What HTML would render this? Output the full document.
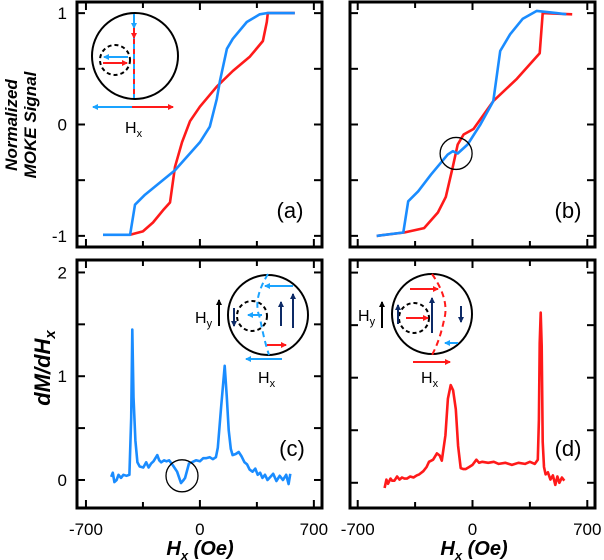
<!DOCTYPE html>
<html><head><meta charset="utf-8"><style>
body{margin:0;background:#fff;}
svg{display:block;font-family:"Liberation Sans",Arial,sans-serif;}
</style></head><body>
<svg id="fig" width="604" height="560" viewBox="0 0 604 560">
<defs>
<marker id="ab" markerWidth="6" markerHeight="6" refX="5" refY="3" orient="auto" markerUnits="userSpaceOnUse"><path d="M0,0L6,3L0,6z" fill="#1aa3ff"/></marker>
<marker id="ar" markerWidth="6" markerHeight="6" refX="5" refY="3" orient="auto" markerUnits="userSpaceOnUse"><path d="M0,0L6,3L0,6z" fill="#ff1a1a"/></marker>
<marker id="an" markerWidth="6" markerHeight="6" refX="5" refY="3" orient="auto" markerUnits="userSpaceOnUse"><path d="M0,0L6,3L0,6z" fill="#0d2a66"/></marker>
<marker id="ak" markerWidth="6" markerHeight="6" refX="5" refY="3" orient="auto" markerUnits="userSpaceOnUse"><path d="M0,0L6,3L0,6z" fill="#000"/></marker>
</defs>
<g id="plots"></g>
<g id="labels" font-size="17">
<text transform="translate(26,125) rotate(-90)" text-anchor="middle" font-weight="bold" font-style="italic" font-size="17"><tspan x="0" dy="-9">Normalized</tspan><tspan x="0" dy="19">MOKE Signal</tspan></text>
<text transform="translate(50,368) rotate(-90)" text-anchor="middle" font-weight="bold" font-style="italic" font-size="22">dM/dH<tspan font-size="15" dy="5">x</tspan></text>
<text x="200" y="555" text-anchor="middle" font-weight="bold" font-style="italic" font-size="20">H<tspan font-size="13" dy="5">x</tspan><tspan dy="-5"> (Oe)</tspan></text>
<text x="474" y="555" text-anchor="middle" font-weight="bold" font-style="italic" font-size="20">H<tspan font-size="13" dy="5">x</tspan><tspan dy="-5"> (Oe)</tspan></text>
<text x="290" y="218" text-anchor="middle" font-size="22">(a)</text>
<text x="568" y="218" text-anchor="middle" font-size="22">(b)</text>
<text x="292" y="456" text-anchor="middle" font-size="22">(c)</text>
<text x="568" y="456" text-anchor="middle" font-size="22">(d)</text>
</g>
<g id="insets" fill="none" stroke-width="2">
<g>
<circle cx="135" cy="56" r="43" stroke="#000"/>
<circle cx="115" cy="60" r="15" stroke="#000" stroke-dasharray="4,3"/>
<line x1="134" y1="14" x2="134" y2="98" stroke="#1aa3ff" stroke-dasharray="5,5"/>
<line x1="134" y1="19" x2="134" y2="98" stroke="#ff1a1a" stroke-dasharray="5,5"/>
<line x1="134" y1="16" x2="134" y2="28" stroke="#1aa3ff" marker-end="url(#ab)"/>
<line x1="134" y1="28" x2="134" y2="38" stroke="#ff1a1a" marker-end="url(#ar)"/>
<line x1="128" y1="57" x2="104" y2="57" stroke="#1aa3ff" marker-end="url(#ab)"/>
<line x1="103" y1="63" x2="127" y2="63" stroke="#ff1a1a" marker-end="url(#ar)"/>
<line x1="132" y1="107" x2="93" y2="107" stroke="#1aa3ff" marker-end="url(#ab)"/>
<line x1="132" y1="107" x2="173" y2="107" stroke="#ff1a1a" marker-end="url(#ar)"/>
<text x="125" y="133" fill="#000" stroke="none" font-size="16">H<tspan font-size="11" dy="4">x</tspan></text>
</g>
<g>
<circle cx="268" cy="315" r="40" stroke="#000"/>
<circle cx="252" cy="316" r="15" stroke="#000" stroke-dasharray="4,3"/>
<path d="M268,274 Q252,300 260,318 Q264,340 269,355" stroke="#1aa3ff" stroke-dasharray="6,4"/>
<line x1="293" y1="286" x2="265" y2="286" stroke="#1aa3ff" marker-end="url(#ab)"/>
<line x1="262" y1="315" x2="248" y2="315" stroke="#1aa3ff" marker-end="url(#ab)"/>
<line x1="267" y1="345" x2="286" y2="345" stroke="#ff1a1a" marker-end="url(#ar)"/>
<line x1="282" y1="359" x2="246" y2="359" stroke="#1aa3ff" marker-end="url(#ab)"/>
<line x1="234" y1="308" x2="234" y2="326" stroke="#0d2a66" marker-end="url(#an)"/>
<line x1="281" y1="326" x2="281" y2="302" stroke="#0d2a66" marker-end="url(#an)"/>
<line x1="293" y1="328" x2="293" y2="294" stroke="#0d2a66" marker-end="url(#an)"/>
<line x1="219" y1="326" x2="219" y2="300" stroke="#000" marker-end="url(#ak)"/>
<text x="195" y="323" fill="#000" stroke="none" font-size="16">H<tspan font-size="11" dy="4">y</tspan></text>
<text x="258" y="383" fill="#000" stroke="none" font-size="16">H<tspan font-size="11" dy="4">x</tspan></text>
</g>
<g>
<circle cx="432" cy="314" r="40" stroke="#000"/>
<circle cx="414" cy="318" r="15" stroke="#000" stroke-dasharray="4,3"/>
<path d="M432,274 Q450,300 444,320 Q440,340 432,355" stroke="#ff1a1a" stroke-dasharray="6,4"/>
<line x1="410" y1="289" x2="438" y2="289" stroke="#ff1a1a" marker-end="url(#ar)"/>
<line x1="406" y1="318" x2="428" y2="318" stroke="#ff1a1a" marker-end="url(#ar)"/>
<line x1="398" y1="324" x2="398" y2="305" stroke="#0d2a66" marker-end="url(#an)"/>
<line x1="432" y1="333" x2="432" y2="298" stroke="#0d2a66" marker-end="url(#an)"/>
<line x1="461" y1="306" x2="461" y2="322" stroke="#0d2a66" marker-end="url(#an)"/>
<line x1="458" y1="343" x2="445" y2="343" stroke="#1aa3ff" marker-end="url(#ab)"/>
<line x1="413" y1="362" x2="450" y2="362" stroke="#ff1a1a" marker-end="url(#ar)"/>
<line x1="382" y1="328" x2="382" y2="302" stroke="#000" marker-end="url(#ak)"/>
<text x="358" y="321" fill="#000" stroke="none" font-size="16">H<tspan font-size="11" dy="4">y</tspan></text>
<text x="421" y="383" fill="#000" stroke="none" font-size="16">H<tspan font-size="11" dy="4">x</tspan></text>
</g>
</g>
</svg>
<script>
const aBlueX=[-595,-429,-399,-337,-153,0,61,104,123,166,202,288,368,411,583];
const aBlueY=[-0.99,-0.99,-0.72,-0.63,-0.41,-0.16,-0.02,0.23,0.39,0.68,0.77,0.92,0.99,1.0,1.0];
const aRedX=[-429,-350,-288,-227,-184,-153,-110,-61,0,104,202,307,387,411,417,583];
const aRedY=[-0.99,-0.96,-0.88,-0.77,-0.70,-0.38,-0.16,0.03,0.16,0.34,0.48,0.61,0.75,0.92,1.0,1.0];
const bBlueX=[-584,-422,-392,-331,-253,-151,-120,-90,-30,48,127,169,229,307,392,512,572];
const bBlueY=[-1.0,-0.97,-0.69,-0.6,-0.45,-0.27,-0.24,-0.26,-0.18,0,0.21,0.66,0.81,0.95,1.02,1.0,0.99];
const bRedX=[-584,-416,-295,-211,-163,-120,-90,-54,6,127,271,410,428,608];
const bRedY=[-1.0,-0.97,-0.93,-0.79,-0.65,-0.38,-0.18,-0.09,-0.04,0.21,0.41,0.64,1.0,0.99];
const cX=[-545,-535,-525,-512,-500,-485,-470,-451,-433,-422,-415,-408,-396,-384,-370,-348,-330,-315,-299,-285,-262,-250,-238,-220,-205,-189,-165,-140,-116,-100,-91,-67,-50,-24,0,20,37,60,80,98,110,130,152,165,177,190,201,220,238,255,274,290,305,323,340,355,370,384,400,415,433,450,470,490,510,530,545,555];
const cY=[0.03,0.07,-0.02,0.0,0.05,0.02,0.05,0.04,0.05,0.6,1.45,0.8,0.38,0.17,0.13,0.12,0.17,0.12,0.16,0.18,0.24,0.19,0.17,0.19,0.18,0.19,0.14,0.08,-0.03,0.0,0.02,0.16,0.17,0.19,0.18,0.21,0.21,0.22,0.20,0.22,0.31,0.7,1.1,0.8,0.48,0.30,0.24,0.25,0.27,0.23,0.17,0.15,0.10,0.08,0.11,0.05,0.07,0.02,0.05,0.0,0.03,0.06,-0.01,0.04,0.0,0.05,-0.04,0.06];
const dX=[-536,-525,-515,-500,-490,-476,-460,-445,-430,-415,-400,-380,-360,-340,-325,-300,-280,-265,-240,-217,-200,-187,-165,-150,-133,-118,-102,-88,-72,-55,-42,-20,0,24,40,60,96,130,160,200,240,280,320,350,380,398,405,410,416,422,428,436,446,460,475,490,505,518,530,545,560];
const dY=[-0.05,0.03,-0.01,0.04,0.02,0.02,0.06,0.03,0.05,0.04,0.04,0.06,0.05,0.07,0.08,0.11,0.15,0.2,0.22,0.28,0.26,0.21,0.45,0.8,0.93,0.88,0.7,0.35,0.14,0.13,0.13,0.15,0.17,0.22,0.19,0.2,0.19,0.2,0.18,0.19,0.17,0.19,0.18,0.2,0.18,0.22,0.6,1.33,1.62,1.3,0.39,0.15,0.08,0.1,0.03,0.07,-0.02,0.06,0.0,0.05,0.02];
const yTicksTop=[1,0,-1];
const yTicksBot=[2,1,0];
const xTickLabels=[-700,0,700];
const NS="http://www.w3.org/2000/svg";
const g=document.getElementById('plots');
function mk(tag,at,parent){const e=document.createElementNS(NS,tag);for(const k in at)e.setAttribute(k,at[k]);(parent||g).appendChild(e);return e;}
function panel(name,x0,x1,y0,y1,xmin,xmax,ymin,ymax,yMajor,yMinorStep,showYLabels,showXLabels){
  const sx=v=>x0+(v-xmin)/(xmax-xmin)*(x1-x0);
  const sy=v=>y1-(v-ymin)/(ymax-ymin)*(y1-y0);
  const fr=mk('rect',{x:x0,y:y0,width:x1-x0,height:y1-y0,fill:'none',stroke:'#000','stroke-width':3});
  
  
  for(let v=-700;v<=700;v+=350){
    const L=v%700===0?8:6;
    mk('line',{x1:sx(v),x2:sx(v),y1:y1,y2:y1-L,stroke:'#000','stroke-width':2});
    mk('line',{x1:sx(v),x2:sx(v),y1:y0,y2:y0+L,stroke:'#000','stroke-width':2});
  }
  for(let v=Math.ceil(ymin/yMinorStep)*yMinorStep;v<=ymax+1e-9;v+=yMinorStep){
    mk('line',{x1:x0,x2:x0+8,y1:sy(v),y2:sy(v),stroke:'#000','stroke-width':2});
    mk('line',{x1:x1,x2:x1-8,y1:sy(v),y2:sy(v),stroke:'#000','stroke-width':2});
  }
  if(showYLabels){
    yMajor.forEach(v=>{
      const t=mk('text',{x:x0-10,y:sy(v)+6,'text-anchor':'end','font-size':17});
      t.textContent=v;
      
      
    });
  }
  if(showXLabels){
    xTickLabels.forEach(v=>{
      const t=mk('text',{x:sx(v),y:y1+27,'text-anchor':'middle','font-size':17});
      t.textContent=v;
      
      
    });
  }
  return {sx,sy};
}
function series(ax,X,Y,color,name){
  const d=X.map((x,i)=>(i?'L':'M')+ax.sx(x).toFixed(1)+','+ax.sy(Y[i]).toFixed(1)).join('');
  const p=mk('path',{d:d,fill:'none',stroke:color,'stroke-width':2.6,'stroke-linejoin':'round'});
  
  
}
const BLUE='#1a8cff',RED='#ff1a1a';
const A=panel('panel-a',77,322,2,247,-755,750,-1.1,1.1,yTicksTop,0.5,true,false);
series(A,aRedX,aRedY,RED,'series-a-red');
series(A,aBlueX,aBlueY,BLUE,'series-a-blue');
const B=panel('panel-b',350,595,2,247,-747,747,-1.1,1.1,yTicksTop,0.5,false,false);
series(B,bRedX,bRedY,RED,'series-b-red');
series(B,bBlueX,bBlueY,BLUE,'series-b-blue');
const C=panel('panel-c',77,322,260,508,-755,750,-0.27,2.12,yTicksBot,0.5,true,true);
series(C,cX,cY,BLUE,'series-c-blue');
const D=panel('panel-d',350,595,260,508,-747,747,-0.24,2.12,yTicksBot,0.5,false,true);
series(D,dX,dY,RED,'series-d-red');
const c1=mk('circle',{cx:B.sx(-100),cy:B.sy(-0.26),r:16,fill:'none',stroke:'#000','stroke-width':1.3});


const c2=mk('circle',{cx:C.sx(-110),cy:C.sy(0.04),r:16,fill:'none',stroke:'#000','stroke-width':1.3});


</script>
</body></html>
